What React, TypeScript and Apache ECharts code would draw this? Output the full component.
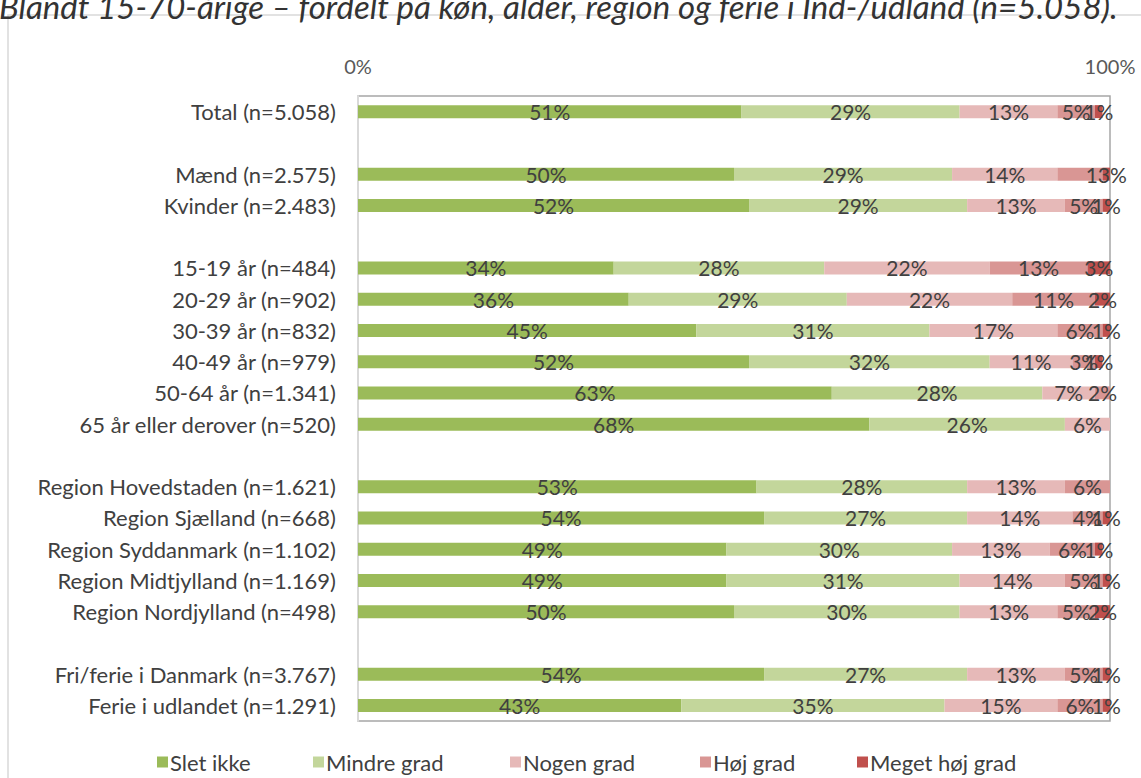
import React, { useEffect, useRef } from "react";
import * as echarts from "echarts";

const categories = [
  "Total (n=5.058)", "",
  "Mænd (n=2.575)", "Kvinder (n=2.483)", "",
  "15-19 år (n=484)", "20-29 år (n=902)", "30-39 år (n=832)", "40-49 år (n=979)", "50-64 år (n=1.341)", "65 år eller derover (n=520)", "",
  "Region Hovedstaden (n=1.621)", "Region Sjælland (n=668)", "Region Syddanmark (n=1.102)", "Region Midtjylland (n=1.169)", "Region Nordjylland (n=498)", "",
  "Fri/ferie i Danmark (n=3.767)", "Ferie i udlandet (n=1.291)",
];

const sletIkke = [51, null, 50, 52, null, 34, 36, 45, 52, 63, 68, null, 53, 54, 49, 49, 50, null, 54, 43];
const mindreGrad = [29, null, 29, 29, null, 28, 29, 31, 32, 28, 26, null, 28, 27, 30, 31, 30, null, 27, 35];
const nogenGrad = [13, null, 14, 13, null, 22, 22, 17, 11, 7, 6, null, 13, 14, 13, 14, 13, null, 13, 15];
const hojGrad = [5, null, 6, 5, null, 13, 11, 6, 3, 2, 0, null, 6, 4, 6, 5, 5, null, 5, 6];
const megetHojGrad = [1, null, 1, 1, null, 3, 2, 1, 1, 0, 0, null, 0.3, 1, 1, 1, 2, null, 1, 1];

const seriesNames = ["Slet ikke", "Mindre grad", "Nogen grad", "Høj grad", "Meget høj grad"];
const seriesColors = ["#9BBB59", "#C3D69B", "#E6B9B8", "#D99694", "#C0504D"];
const seriesValues = [sletIkke, mindreGrad, nogenGrad, hojGrad, megetHojGrad];

// labels as printed in the original where they differ from the value
const labelOverrides: Record<string, string> = {
  "Høj grad|2": "",
  "Meget høj grad|2": "13%",
};

const xTicks = [0, 100];
const legendLefts = [157, 313, 510, 700, 857];
const FONT = "Lato, 'Open Sans', sans-serif";
const TEXT = "#404040";

export default function App() {
  const ref = useRef<HTMLDivElement>(null);
  useEffect(() => {
    if (!ref.current) return;
    const chart = echarts.init(ref.current, null, { renderer: "svg" });
    chart.setOption({
      animation: false,
      textStyle: { fontFamily: FONT },
      graphic: [
        {
          type: "rect",
          shape: { x: 8, y: 15, width: 1300, height: 900 },
          style: { fill: "none", stroke: "#d9d9d9", lineWidth: 1.5 },
          silent: true,
        },
        {
          type: "text",
          x: -1,
          y: 6,
          style: {
            text: "Blandt 15-70-årige – fordelt på køn, alder, region og ferie i Ind-/udland (n=5.058).",
            font: `italic 33px ${FONT}`,
            fill: "#333333",
            verticalAlign: "middle",
          },
        },
      ],
      grid: {
        left: 358,
        right: 31,
        top: 96,
        bottom: 57,
        show: true,
        borderColor: "#a6a6a6",
        borderWidth: 1.5,
        backgroundColor: "transparent",
      },
      legend: seriesNames.map((name, i) => ({
        top: 751,
        left: legendLefts[i],
        padding: 0,
        itemWidth: 11,
        itemHeight: 11,
        itemGap: 0,
        icon: "rect",
        textStyle: { fontSize: 22, color: TEXT, fontFamily: FONT, padding: [0, 0, 0, -3] },
        data: [name],
      })),
      xAxis: {
        type: "value",
        position: "top",
        min: xTicks[0],
        max: xTicks[1],
        interval: 100,
        axisLabel: { formatter: "{value}%", fontSize: 20, color: "#595959", margin: 20, fontFamily: FONT },
        splitLine: { show: false },
        axisLine: { show: false },
        axisTick: { show: false },
      },
      yAxis: {
        type: "category",
        inverse: true,
        data: categories,
        axisLabel: { fontSize: 22, color: TEXT, margin: 22, fontFamily: FONT },
        axisLine: { show: true, lineStyle: { color: "#d9d9d9", width: 2 } },
        axisTick: { show: false },
      },
      series: seriesNames.map((name, si) => ({
        name,
        type: "bar",
        stack: "all",
        barWidth: 13,
        itemStyle: { color: seriesColors[si] },
        label: {
          show: true,
          position: "inside",
          color: TEXT,
          fontSize: 21,
          fontFamily: FONT,
          formatter: (p: any) => {
            const key = `${name}|${p.dataIndex}`;
            if (key in labelOverrides) return labelOverrides[key];
            if (p.value == null || p.value < 0.5) return "";
            return `${Math.round(p.value)}%`;
          },
        },
        data: seriesValues[si],
      })),
    });
    return () => chart.dispose();
  }, []);
  return <div ref={ref} style={{ width: 1141, height: 778, position: "absolute", left: 0, top: 0 }} />;
}
